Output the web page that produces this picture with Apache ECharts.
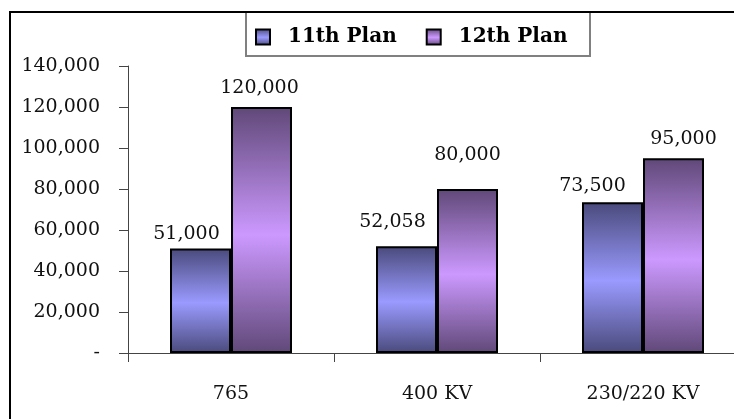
<!DOCTYPE html>
<html>
<head>
<meta charset="utf-8">
<script src="https://cdn.jsdelivr.net/npm/echarts@6/dist/echarts.min.js"></script>
<style>
html,body{margin:0;padding:0;background:#fff;overflow:hidden;width:734px;height:419px;}
#c{width:760px;height:419px;}
</style>
</head>
<body>
<div id="c"></div>
<script>
var categories = ['765', '400 KV', '230/220 KV'];
var seriesNames = ['11th Plan', '12th Plan'];
var plan11 = [51000, 52058, 73500];
var plan12 = [120000, 80000, 95000];
var yTicks = [0, 20000, 40000, 60000, 80000, 100000, 120000, 140000];

var FONT = 'DejaVu Serif';
// label nudges (styling only)
var nudge11 = [[-14, 0], [-14, -10], [-20, -2]];
var nudge12 = [[-2, -4], [0, -19], [10, -5]];

function fmt(v) {
  if (v === 0) return '-';
  return String(v).replace(/\B(?=(\d{3})+(?!\d))/g, ',');
}
function grad(dark, light) {
  return new echarts.graphic.LinearGradient(0, 0, 0, 1, [
    {offset: 0, color: dark},
    {offset: 0.52, color: light},
    {offset: 1, color: dark}
  ]);
}
function mkData(vals, nudges) {
  return vals.map(function (v, i) {
    return {value: v, label: {offset: nudges[i]}};
  });
}

var chart = echarts.init(document.getElementById('c'), null, {renderer: 'canvas'});
chart.setOption({
  animation: false,
  backgroundColor: '#fff',
  graphic: [
    {type: 'line', shape: {x1: 10, y1: 11, x2: 10, y2: 430}, style: {stroke: '#000', lineWidth: 2}, z: 100},
    {type: 'line', shape: {x1: 9, y1: 12, x2: 760, y2: 12}, style: {stroke: '#000', lineWidth: 2}, z: 100},
    {type: 'rect', shape: {x: 246, y: 12, width: 344, height: 44}, style: {fill: 'none', stroke: '#808080', lineWidth: 2}, z: 99}
  ],
  legend: {
    left: 255, top: 27,
    icon: 'rect',
    itemWidth: 14, itemHeight: 15,
    itemGap: 29,
    padding: 0,
    textStyle: {fontFamily: FONT, fontWeight: 'bold', fontSize: 20, color: '#000', padding: [0, 0, 0, 13]},
    data: seriesNames
  },
  grid: {left: 128, right: 14, top: 66, bottom: 66, containLabel: false},
  xAxis: {
    type: 'category',
    data: categories,
    axisLine: {lineStyle: {color: '#444', width: 1}},
    axisTick: {show: true, length: 9, lineStyle: {color: '#444'}},
    axisLabel: {fontFamily: FONT, fontSize: 19, color: '#111', margin: 32}
  },
  yAxis: {
    type: 'value',
    min: yTicks[0], max: yTicks[yTicks.length - 1], interval: yTicks[1] - yTicks[0],
    splitLine: {show: false},
    axisLine: {show: true, lineStyle: {color: '#444', width: 1}},
    axisTick: {show: true, length: 9, lineStyle: {color: '#444'}},
    axisLabel: {fontFamily: FONT, fontSize: 19, color: '#111', margin: 28, formatter: fmt}
  },
  series: [
    {
      name: seriesNames[0], type: 'bar', barWidth: 61, barGap: '0%',
      data: mkData(plan11, nudge11),
      itemStyle: {color: grad('#4a4a7c', '#9a9aff'), borderColor: '#000', borderWidth: 2},
      label: {show: true, position: 'top', fontFamily: FONT, fontSize: 19, color: '#111', formatter: function (p) { return fmt(p.value); }}
    },
    {
      name: seriesNames[1], type: 'bar', barWidth: 61, barGap: '0%',
      data: mkData(plan12, nudge12),
      itemStyle: {color: grad('#604878', '#cc99ff'), borderColor: '#000', borderWidth: 2},
      label: {show: true, position: 'top', fontFamily: FONT, fontSize: 19, color: '#111', formatter: function (p) { return fmt(p.value); }}
    }
  ]
});
</script>
</body>
</html>
